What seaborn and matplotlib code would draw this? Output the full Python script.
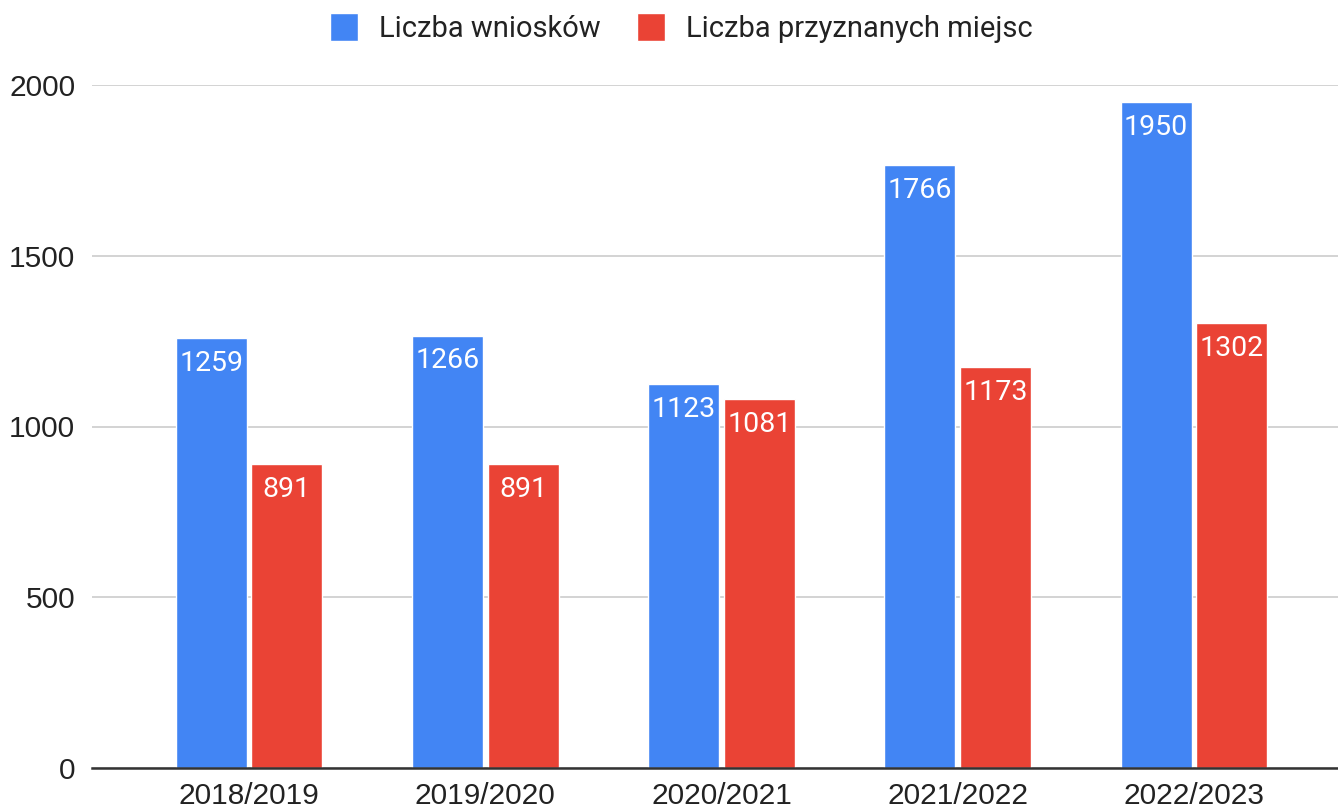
import numpy as np
import pandas as pd
import matplotlib.pyplot as plt
import seaborn as sns
from matplotlib.lines import Line2D

# Data
years = ["2018/2019", "2019/2020", "2020/2021", "2021/2022", "2022/2023"]
wnioski = [1259, 1266, 1123, 1766, 1950]
miejsca = [891, 891, 1081, 1173, 1302]
series = ["Liczba wniosków", "Liczba przyznanych miejsc"]

df = pd.DataFrame({
    "rok": years * 2,
    "seria": [series[0]] * len(years) + [series[1]] * len(years),
    "wartosc": wnioski + miejsca,
})
palette = {series[0]: "#4285F4", series[1]: "#EA4335"}

sns.set_style("white")
plt.rcParams['font.family'] = ['Liberation Sans', 'DejaVu Sans']

fig = plt.figure(figsize=(13.38, 8.08), dpi=100)
ax = fig.add_axes([92 / 1338, 1 - 768 / 808, 1 - 92 / 1338, (768 - 85) / 808])

sns.barplot(data=df, x="rok", y="wartosc", hue="seria", palette=palette,
            width=0.64, gap=0.06, saturation=1, legend=False, ax=ax)

# value labels inside bars
for cont in ax.containers:
    for bar in cont:
        h = bar.get_height()
        ax.annotate(f"{int(h)}", (bar.get_x() + bar.get_width() / 2, h),
                    xytext=(0, -8.5), textcoords="offset points",
                    ha="center", va="top", color="white", fontsize=20.5,
                    family=["Roboto", "DejaVu Sans"])

ax.set_ylim(0, 2000)
ax.set_xlim(-0.665, 4.61)
ax.set_yticks([0, 500, 1000, 1500, 2000])
ax.yaxis.grid(True, color="#cccccc", linewidth=1.2)
ax.set_axisbelow(True)
for s in ["top", "right", "left"]:
    ax.spines[s].set_visible(False)
ax.spines["bottom"].set_color("#333333")
ax.spines["bottom"].set_linewidth(1.8)
ax.tick_params(axis="y", length=0, pad=12, labelsize=21.5, labelcolor="#222222")
ax.tick_params(axis="x", length=0, pad=10, labelsize=21.5, labelcolor="#222222")
ax.set_xlabel("")
ax.set_ylabel("")

# legend
handles = [Line2D([0], [0], marker="s", color="w", markersize=20,
                  markerfacecolor=palette[s], linestyle="") for s in series]
fig.legend(handles, series, loc="upper center", bbox_to_anchor=(0.509, 1.014),
           ncol=2, frameon=False, handlelength=1.0, handletextpad=0.7,
           columnspacing=1.2,
           prop={"family": ["Roboto", "DejaVu Sans"], "size": 21},
           labelcolor="#222222")

fig.savefig("out.png", dpi=100)
